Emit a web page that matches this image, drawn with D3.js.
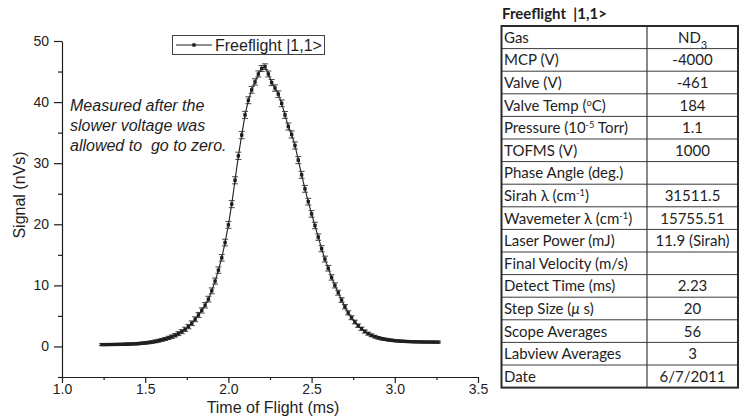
<!DOCTYPE html>
<html>
<head>
<meta charset="utf-8">
<script src="https://cdn.jsdelivr.net/npm/d3@7/dist/d3.min.js"></script>
<style>
  html, body { margin: 0; padding: 0; background: #fff; }
  svg { display: block; }
</style>
</head>
<body>
<svg id="chart" width="742" height="420"></svg>
<script>
// Time-of-flight scan, 20 µs steps starting at 1.24 ms
const startTime = 1.24;
const stepMs = 0.02;

// Integrated signal (nVs) at each step
const signal = [
  0.30, 0.30, 0.31, 0.32, 0.33, 0.34, 0.35, 0.37, 0.39, 0.41,
  0.44, 0.47, 0.52, 0.58, 0.64, 0.72, 0.82, 0.94, 1.07, 1.22,
  1.40, 1.60, 1.83, 2.10, 2.42, 2.80, 3.25, 3.80, 4.45, 5.15,
  5.90, 6.75, 7.75, 9.10, 10.7, 12.5, 14.5, 17.0, 19.9, 23.3,
  27.2, 31.2, 34.6, 37.9, 40.3, 42.0, 43.3, 44.6, 45.5, 45.8,
  44.6, 43.2, 42.3, 41.3, 39.8, 37.9, 36.0, 34.7, 32.9, 30.5,
  28.1, 25.8, 23.7, 21.7, 19.8, 17.9, 16.0, 14.3, 12.8, 11.3,
  10.0, 8.8, 7.6, 6.5, 5.5, 4.7, 4.0, 3.4, 2.9, 2.45,
  2.10, 1.82, 1.60, 1.42, 1.28, 1.17, 1.08, 1.01, 0.95, 0.90,
  0.86, 0.83, 0.80, 0.78, 0.76, 0.75, 0.74, 0.73, 0.72, 0.72,
  0.71, 0.71
];

// Standard error of each point (nVs)
const signalErr = [
  0.15, 0.15, 0.15, 0.15, 0.16, 0.16, 0.16, 0.17, 0.17, 0.18,
  0.18, 0.19, 0.19, 0.20, 0.20, 0.21, 0.22, 0.23, 0.24, 0.25,
  0.27, 0.28, 0.30, 0.32, 0.33, 0.35, 0.36, 0.38, 0.40, 0.42,
  0.43, 0.45, 0.46, 0.48, 0.50, 0.52, 0.54, 0.55, 0.56, 0.58,
  0.58, 0.60, 0.60, 0.58, 0.56, 0.55, 0.52, 0.50, 0.48, 0.46,
  0.48, 0.50, 0.52, 0.54, 0.55, 0.56, 0.57, 0.58, 0.58, 0.58,
  0.57, 0.56, 0.55, 0.54, 0.53, 0.52, 0.50, 0.48, 0.46, 0.44,
  0.42, 0.40, 0.38, 0.36, 0.34, 0.32, 0.30, 0.28, 0.27, 0.25,
  0.24, 0.23, 0.22, 0.21, 0.20, 0.19, 0.18, 0.18, 0.17, 0.17,
  0.16, 0.16, 0.16, 0.15, 0.15, 0.15, 0.15, 0.15, 0.15, 0.15,
  0.15, 0.15
];

const xMajorTicks = [1.0, 1.5, 2.0, 2.5, 3.0, 3.5];
const xMinorTicks = [1.25, 1.75, 2.25, 2.75, 3.25];
const yMajorTicks = [0, 10, 20, 30, 40, 50];
const yMinorTicks = [-5, 5, 15, 25, 35, 45];

const seriesName = "Freeflight |1,1>";
const noteLines = ["Measured after the", "slower voltage was", "allowed to  go to zero."];

// Run-parameter table: ^..^ superscript, _.._ subscript, ~..~ italic
const paramTitle = "Freeflight  |1,1>";
const paramNames = [
  "Gas", "MCP (V)", "Valve (V)", "Valve Temp (^o^C)", "Pressure (10^-5^ Torr)",
  "TOFMS (V)", "Phase Angle (deg.)", "Sirah λ (cm^-1^)", "Wavemeter λ (cm^-1^)",
  "Laser Power (mJ)", "Final Velocity (m/s)", "Detect Time (ms)", "Step Size (~μ~ s)",
  "Scope Averages", "Labview Averages", "Date"
];
const paramValues = [
  "ND_3_", "-4000", "-461", "184", "1.1", "1000", "", "31511.5", "15755.51",
  "11.9 (Sirah)", "", "2.23", "20", "56", "3", "6/7/2011"
];

const data = signal.map((v, i) => ({
  t: +(startTime + i * stepMs).toFixed(2),
  v: v,
  e: signalErr[i]
}));

const svg = d3.select("#chart");
const plotFont = "'Liberation Sans', Arial, sans-serif";
const ink = "#1e1e1e";

const x = d3.scaleLinear().domain([1.0, 3.5]).range([62, 478]);
const y = d3.scaleLinear().domain([-5, 50]).range([377, 41]);

// Axes: major ticks with labels, minor ticks without
svg.append("g")
  .attr("transform", `translate(0,${y(-5)})`)
  .call(d3.axisBottom(x).tickValues(xMajorTicks).tickFormat(d3.format(".1f"))
    .tickSize(6).tickSizeOuter(0).tickPadding(1));
svg.append("g")
  .attr("transform", `translate(0,${y(-5)})`)
  .call(d3.axisBottom(x).tickValues(xMinorTicks).tickFormat("").tickSize(3).tickSizeOuter(0))
  .select(".domain").remove();

svg.append("g")
  .attr("transform", `translate(${x(1.0)},0)`)
  .call(d3.axisLeft(y).tickValues(yMajorTicks).tickSize(8).tickSizeOuter(0).tickPadding(5));
svg.append("g")
  .attr("transform", `translate(${x(1.0)},0)`)
  .call(d3.axisLeft(y).tickValues(yMinorTicks).tickFormat("").tickSize(4).tickSizeOuter(0))
  .select(".domain").remove();

svg.selectAll(".domain, .tick line").attr("stroke", ink).attr("stroke-width", 1.2);
svg.selectAll(".tick text")
  .attr("font-family", plotFont).attr("font-size", 14).attr("fill", ink);

// Axis titles
svg.append("text")
  .attr("x", 273).attr("y", 413)
  .attr("text-anchor", "middle")
  .attr("font-family", plotFont).attr("font-size", 16).attr("fill", ink)
  .text("Time of Flight (ms)");
svg.append("text")
  .attr("transform", "translate(25,195) rotate(-90)")
  .attr("text-anchor", "middle")
  .attr("font-family", plotFont).attr("font-size", 16).attr("fill", ink)
  .text("Signal (nVs)");

// Connecting line
svg.append("path")
  .datum(data)
  .attr("fill", "none")
  .attr("stroke", ink)
  .attr("stroke-width", 1.1)
  .attr("d", d3.line().x(d => x(d.t)).y(d => y(d.v)));

// Error bars with caps
const bars = svg.append("g").attr("stroke", "#333").attr("stroke-width", 0.9);
const capW = 3;
bars.selectAll("line.bar").data(data).join("line")
  .attr("x1", d => x(d.t)).attr("x2", d => x(d.t))
  .attr("y1", d => y(d.v + d.e)).attr("y2", d => y(d.v - d.e));
bars.selectAll("line.top").data(data).join("line")
  .attr("x1", d => x(d.t) - capW).attr("x2", d => x(d.t) + capW)
  .attr("y1", d => y(d.v + d.e)).attr("y2", d => y(d.v + d.e));
bars.selectAll("line.bot").data(data).join("line")
  .attr("x1", d => x(d.t) - capW).attr("x2", d => x(d.t) + capW)
  .attr("y1", d => y(d.v - d.e)).attr("y2", d => y(d.v - d.e));

// Square markers
svg.append("g").selectAll("rect").data(data).join("rect")
  .attr("x", d => x(d.t) - 1.7).attr("y", d => y(d.v) - 1.7)
  .attr("width", 3.4).attr("height", 3.4)
  .attr("fill", ink);

// Legend
const legend = svg.append("g");
legend.append("rect")
  .attr("x", 172.5).attr("y", 35.5).attr("width", 152).attr("height", 19)
  .attr("fill", "#fff").attr("stroke", "#444").attr("stroke-width", 1);
legend.append("line")
  .attr("x1", 176).attr("x2", 212).attr("y1", 45).attr("y2", 45)
  .attr("stroke", ink).attr("stroke-width", 1);
legend.append("rect")
  .attr("x", 192.3).attr("y", 43.3).attr("width", 3.4).attr("height", 3.4).attr("fill", ink);
legend.append("text")
  .attr("x", 215).attr("y", 51)
  .attr("font-family", plotFont).attr("font-size", 16).attr("fill", ink)
  .text(seriesName);

// Annotation
svg.append("g").selectAll("text").data(noteLines).join("text")
  .attr("x", 70).attr("y", (d, i) => 111 + i * 20)
  .attr("font-family", plotFont).attr("font-size", 16).attr("font-style", "italic")
  .attr("fill", ink)
  .attr("xml:space", "preserve")
  .text(d => d);

// Parameter table
const tableFont = "Lato, 'Open Sans', sans-serif";
const tLeft = 501.5, tMid = 647, tRight = 738, tTop = 26, rowH = 22.6;
const rows = d3.range(paramNames.length);
const rowY = d3.scaleLinear().domain([0, paramNames.length]).range([tTop, tTop + rowH * paramNames.length]);

function richText(sel, str) {
  const parts = str.split(/(\^[^^]*\^|_[^_]*_|~[^~]*~)/).filter(s => s.length);
  parts.forEach(p => {
    if (p[0] === "^") {
      sel.append("tspan").attr("baseline-shift", "super").attr("font-size", "0.62em").text(p.slice(1, -1));
    } else if (p[0] === "_") {
      sel.append("tspan").attr("baseline-shift", "sub").attr("font-size", "0.7em").text(p.slice(1, -1));
    } else if (p[0] === "~") {
      sel.append("tspan").attr("font-style", "italic").text(p.slice(1, -1));
    } else {
      sel.append("tspan").text(p);
    }
  });
}

svg.append("text")
  .attr("x", 502).attr("y", 19)
  .attr("font-family", tableFont).attr("font-size", 15).attr("font-weight", "bold")
  .attr("fill", ink)
  .attr("xml:space", "preserve")
  .text(paramTitle);

const table = svg.append("g");
// inner row lines
table.selectAll("line.row").data(d3.range(1, paramNames.length)).join("line")
  .attr("x1", tLeft).attr("x2", tRight)
  .attr("y1", d => rowY(d)).attr("y2", d => rowY(d))
  .attr("stroke", "#3a3a3a").attr("stroke-width", 1);
table.append("line")
  .attr("x1", tMid).attr("x2", tMid).attr("y1", tTop).attr("y2", rowY(paramNames.length))
  .attr("stroke", "#3a3a3a").attr("stroke-width", 1.2);
table.append("rect")
  .attr("x", tLeft).attr("y", tTop).attr("width", tRight - tLeft)
  .attr("height", rowY(paramNames.length) - tTop)
  .attr("fill", "none").attr("stroke", "#2a2a2a").attr("stroke-width", 2);

rows.forEach(i => {
  const cy = rowY(i) + rowH / 2 + 5.5;
  const nameText = table.append("text")
    .attr("x", tLeft + 2.5).attr("y", cy)
    .attr("font-family", tableFont).attr("font-size", 15).attr("fill", ink);
  richText(nameText, paramNames[i]);
  const valText = table.append("text")
    .attr("x", (tMid + tRight) / 2).attr("y", cy)
    .attr("text-anchor", "middle")
    .attr("font-family", tableFont).attr("font-size", 15).attr("fill", ink);
  richText(valText, paramValues[i]);
});
</script>
</body>
</html>
